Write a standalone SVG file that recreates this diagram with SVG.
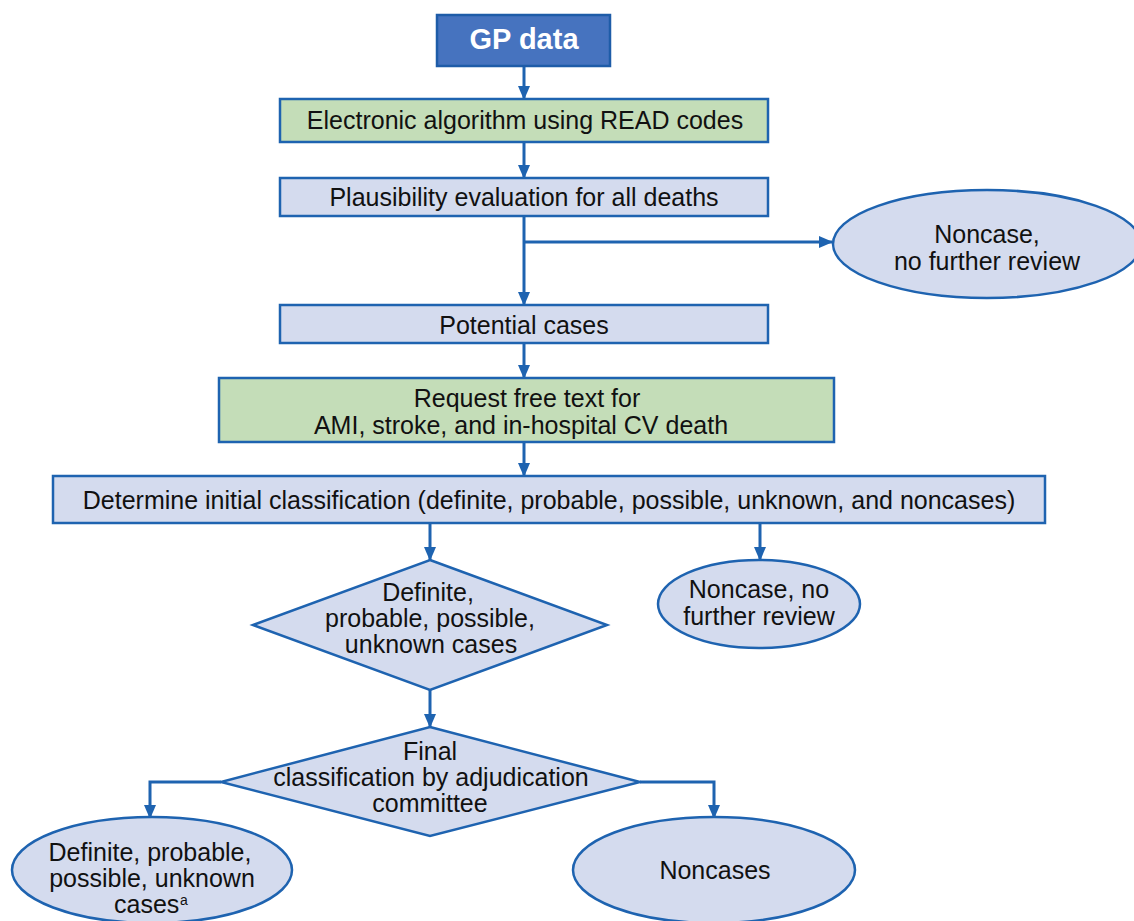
<svg xmlns="http://www.w3.org/2000/svg" width="1134" height="921" viewBox="0 0 1134 921">
<defs>
<style>
.box{fill:#D4DBEE;stroke:#1E63B0;stroke-width:2.5}
.green{fill:#C4DDB8;stroke:#1E63B0;stroke-width:2.5}
.dark{fill:#4673BF;stroke:#1E5CA8;stroke-width:2.5}
.t{font-family:"Liberation Sans",Arial,sans-serif;font-size:25px;fill:#111;text-anchor:middle}
.tb{font-family:"Liberation Sans",Arial,sans-serif;font-size:29px;font-weight:bold;fill:#fff;text-anchor:middle}
.c{fill:none;stroke:#1E63B0;stroke-width:3}
</style>
<marker id="ah" markerUnits="userSpaceOnUse" markerWidth="14" markerHeight="12" refX="13" refY="6" orient="auto">
<path d="M0,0 L14,6 L0,12 z" fill="#1E63B0"/>
</marker>
</defs>
<rect width="1134" height="921" fill="#fff"/>
<g id="connectors">
<line class="c" x1="524" y1="66" x2="524" y2="99" marker-end="url(#ah)"/>
<line class="c" x1="524" y1="142" x2="524" y2="178" marker-end="url(#ah)"/>
<line class="c" x1="524" y1="216" x2="524" y2="305" marker-end="url(#ah)"/>
<line class="c" x1="524" y1="242" x2="832" y2="242" marker-end="url(#ah)"/>
<line class="c" x1="524" y1="343" x2="524" y2="378" marker-end="url(#ah)"/>
<line class="c" x1="524" y1="442" x2="524" y2="476" marker-end="url(#ah)"/>
<line class="c" x1="430" y1="523" x2="430" y2="560" marker-end="url(#ah)"/>
<line class="c" x1="760" y1="523" x2="760" y2="560" marker-end="url(#ah)"/>
<line class="c" x1="430" y1="690" x2="430" y2="727" marker-end="url(#ah)"/>
<polyline class="c" points="221,782 150,782 150,818" marker-end="url(#ah)"/>
<polyline class="c" points="640,782 714,782 714,818" marker-end="url(#ah)"/>
</g>
<g id="gp">
<rect class="dark" x="437" y="15" width="173" height="51"/>
<text class="tb" x="524" y="49">GP data</text>
</g>
<g id="electronic">
<rect class="green" x="280" y="99" width="488" height="43"/>
<text class="t" x="525" y="129">Electronic algorithm using READ codes</text>
</g>
<g id="plausibility">
<rect class="box" x="280" y="178" width="488" height="38"/>
<text class="t" x="524" y="206">Plausibility evaluation for all deaths</text>
</g>
<g id="noncase1">
<ellipse class="box" cx="987" cy="244" rx="154" ry="54"/>
<text class="t" x="987" y="243">Noncase,</text>
<text class="t" x="987" y="270">no further review</text>
</g>
<g id="potential">
<rect class="box" x="280" y="305" width="488" height="38"/>
<text class="t" x="524" y="334">Potential cases</text>
</g>
<g id="request">
<rect class="green" x="219" y="378" width="615" height="64"/>
<text class="t" x="527" y="407">Request free text for</text>
<text class="t" x="521" y="434">AMI, stroke, and in-hospital CV death</text>
</g>
<g id="determine">
<rect class="box" x="53" y="476" width="992" height="47"/>
<text class="t" x="549" y="509">Determine initial classification (definite, probable, possible, unknown, and noncases)</text>
</g>
<g id="diamond1">
<polygon class="box" points="430,560 607,625 430,690 253,625"/>
<text class="t" x="428" y="601">Definite,</text>
<text class="t" x="430" y="627">probable, possible,</text>
<text class="t" x="431" y="653">unknown cases</text>
</g>
<g id="noncase2">
<ellipse class="box" cx="759" cy="604" rx="101" ry="44"/>
<text class="t" x="759" y="598">Noncase, no</text>
<text class="t" x="759" y="625">further review</text>
</g>
<g id="diamond2">
<polygon class="box" points="430,727 640,782 430,836 221,782"/>
<text class="t" x="430" y="760">Final</text>
<text class="t" x="431" y="786">classification by adjudication</text>
<text class="t" x="430" y="812">committee</text>
</g>
<g id="final-cases">
<ellipse class="box" cx="152" cy="870" rx="140" ry="53"/>
<text class="t" x="150" y="861">Definite, probable,</text>
<text class="t" x="152" y="887">possible, unknown</text>
<text class="t" x="114" y="913" style="text-anchor:start">cases</text>
<text class="t" x="180" y="905" style="font-size:14px;text-anchor:start">a</text>
</g>
<g id="noncases">
<ellipse class="box" cx="714" cy="870" rx="141" ry="53"/>
<text class="t" x="715" y="879">Noncases</text>
</g>
</svg>
